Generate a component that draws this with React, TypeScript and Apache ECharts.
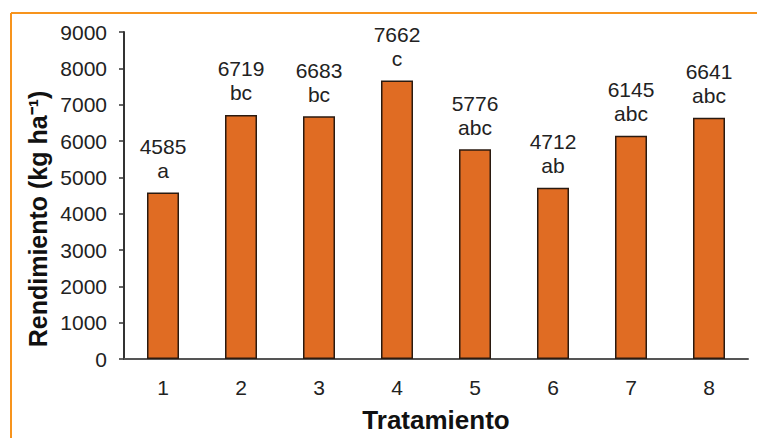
import React, { useEffect, useRef } from "react";
import * as echarts from "echarts";

const categories = ["1", "2", "3", "4", "5", "6", "7", "8"];
const yieldValues = [4585, 6719, 6683, 7662, 5776, 4712, 6145, 6641];
const groupLetters = ["a", "bc", "bc", "c", "abc", "ab", "abc", "abc"];
const yTicks = { min: 0, max: 9000, interval: 1000 };

export default function App() {
  const ref = useRef<HTMLDivElement>(null);
  useEffect(() => {
    if (!ref.current) return;
    const chart = echarts.init(ref.current, null, { renderer: "svg" });
    const font = "'Liberation Sans', Arial, sans-serif";
    chart.setOption({
      animation: false,
      backgroundColor: "#ffffff",
      grid: { left: 124, right: 9, top: 32, bottom: 75 },
      xAxis: {
        type: "category",
        data: categories,
        name: "Tratamiento",
        nameLocation: "middle",
        nameGap: 48,
        nameTextStyle: { fontFamily: font, fontSize: 26, fontWeight: "bold", color: "#111" },
        axisLine: { lineStyle: { color: "#555", width: 2 } },
        axisTick: { show: false },
        axisLabel: { fontFamily: font, fontSize: 21, color: "#222", margin: 18 },
      },
      yAxis: {
        type: "value",
        min: yTicks.min,
        max: yTicks.max,
        interval: yTicks.interval,
        axisLine: { show: true, lineStyle: { color: "#333", width: 2 } },
        axisTick: { show: true, length: 5, lineStyle: { color: "#333", width: 1.5 } },
        splitLine: { show: false },
        axisLabel: {
          fontFamily: font,
          fontSize: 21,
          color: "#222",
          margin: 17,
          formatter: (v: number) => String(v),
        },
      },
      graphic: [
        {
          type: "line",
          shape: { x1: 11, y1: 13, x2: 757, y2: 13 },
          style: { stroke: "#F7941D", lineWidth: 2 },
        },
        {
          type: "line",
          shape: { x1: 11, y1: 13, x2: 11, y2: 438 },
          style: { stroke: "#F7941D", lineWidth: 2 },
        },
        {
          type: "text",
          x: 38,
          y: 219,
          rotation: Math.PI / 2,
          style: {
            text: "Rendimiento (kg ha⁻¹)",
            fontFamily: font,
            fontSize: 25,
            fontWeight: "bold",
            fill: "#111",
            textAlign: "center",
            textVerticalAlign: "middle",
          },
        },
      ],
      series: [
        {
          type: "bar",
          data: yieldValues,
          barWidth: 32,
          itemStyle: { color: "#E06C23", borderColor: "#2a1a10", borderWidth: 1.5 },
          label: {
            show: true,
            position: "top",
            distance: 10,
            fontFamily: font,
            fontSize: 21,
            lineHeight: 24,
            color: "#222",
            align: "center",
            formatter: (p: any) => `${yieldValues[p.dataIndex]}\n${groupLetters[p.dataIndex]}`,
          },
        },
      ],
    });
    return () => chart.dispose();
  }, []);
  return (
    <div
      ref={ref}
      style={{ position: "fixed", left: 0, top: 0, width: 757, height: 438 }}
    />
  );
}
